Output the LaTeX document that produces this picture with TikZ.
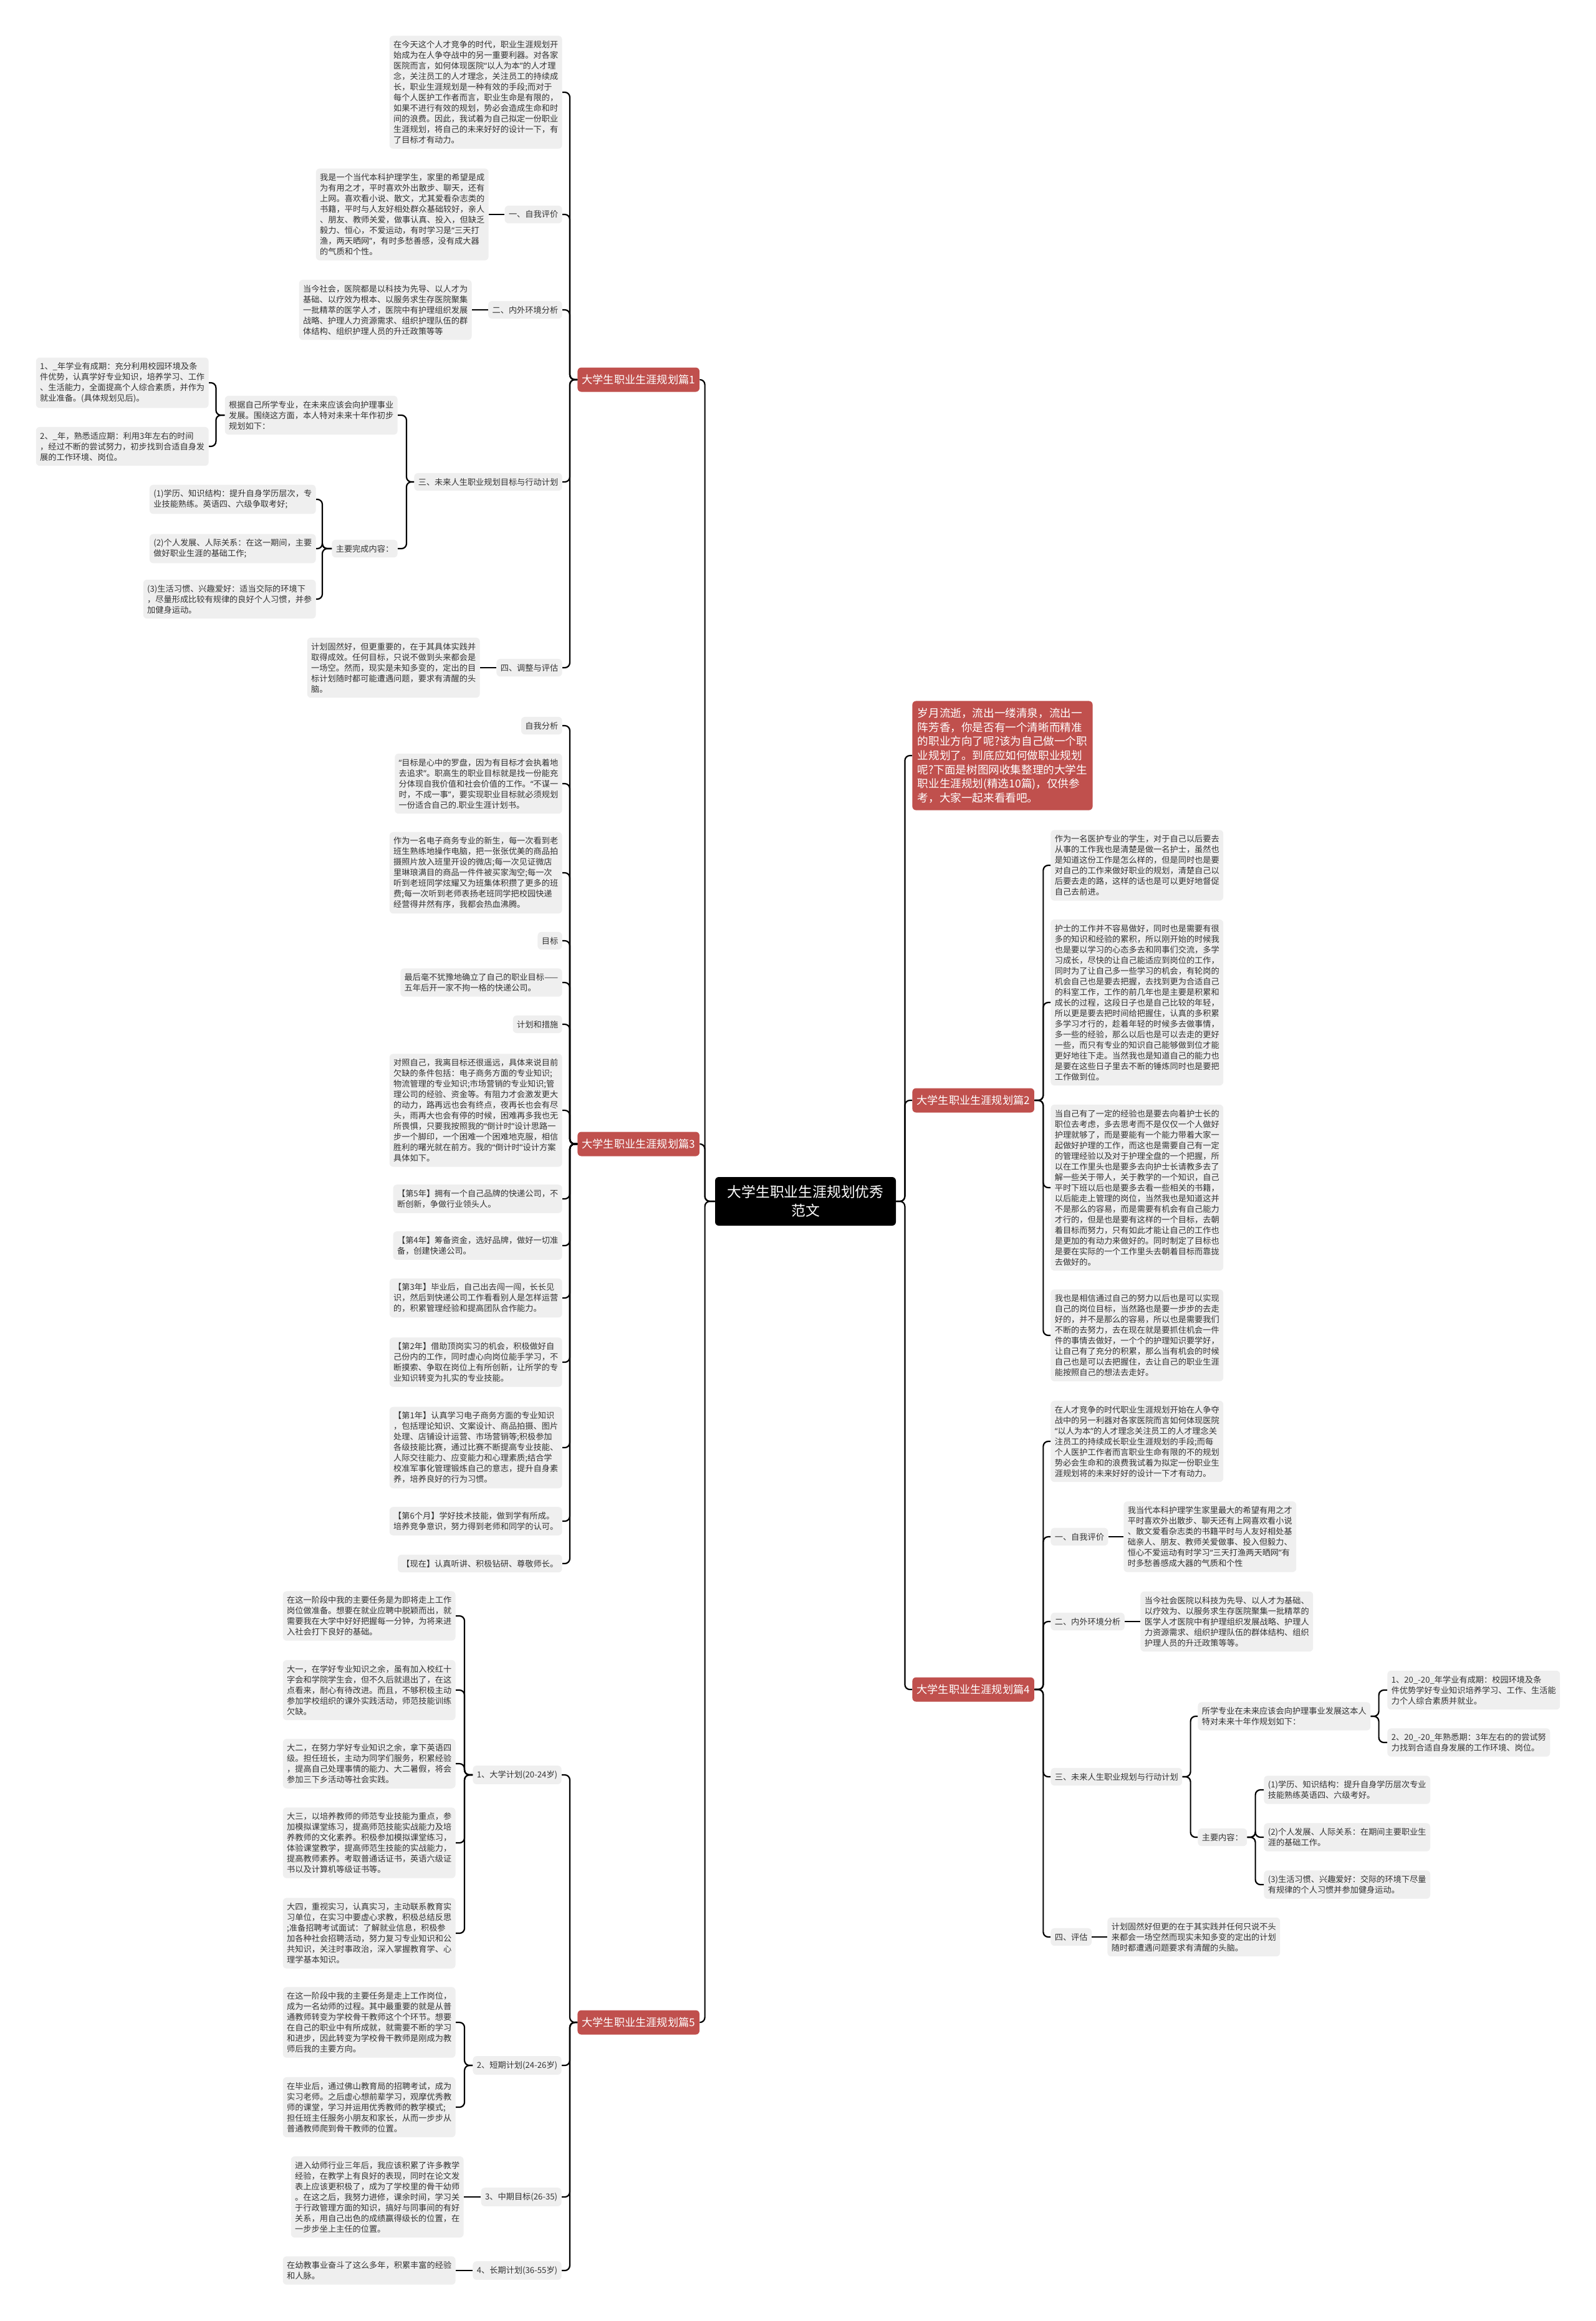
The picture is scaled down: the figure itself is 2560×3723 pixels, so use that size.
\documentclass[tikz,border=0pt]{standalone}
\usepackage{fontspec}
\setmainfont{Noto Sans CJK SC}
\newfontfamily\latq{Noto Sans}
\newcommand\myquote[1]{{\latq “}#1{\latq ”}}
\definecolor{redc}{RGB}{192,80,77}
\definecolor{boxg}{RGB}{239,239,239}
\definecolor{txt}{RGB}{51,51,51}
\tikzset{
 tbox/.style={fill=boxg, text=txt, rounded corners=3pt, inner xsep=3.2pt, inner ysep=4pt, align=left, font=\fontsize{6.6}{8.5}\selectfont},
 rednode/.style={fill=redc, text=white, rounded corners=3pt, inner xsep=3.5pt, inner ysep=0pt, minimum height=19.5pt, font=\fontsize{8.6}{10}\selectfont},
 intronode/.style={fill=redc, text=white, rounded corners=3pt, inner xsep=4.2pt, inner ysep=5.7pt, align=left, font=\fontsize{8.8}{11.3}\selectfont},
 centernode/.style={fill=black, text=white, rounded corners=3pt, minimum width=145pt, minimum height=39pt, inner sep=2pt, align=center, font=\fontsize{11.4}{15}\selectfont},
 conn/.style={draw=black, line width=1.1pt, rounded corners=4pt}
}
\begin{document}
\begin{tikzpicture}[x=0.5pt,y=-0.5pt]
\fill[white] (0,0) rectangle (2560,3723);
\useasboundingbox (0,0) rectangle (2560,3723);

% center
\node[centernode] (c) at (1292,1927) {大学生职业生涯规划优秀\\范文};

% intro
\node[intronode, anchor=west] (intro) at (1463,1212) {岁月流逝，流出一缕清泉，流出一\\阵芳香，你是否有一个清晰而精准\\的职业方向了呢?该为自己做一个职\\业规划了。到底应如何做职业规划\\呢?下面是树图网收集整理的大学生\\职业生涯规划(精选10篇)，仅供参\\考，大家一起来看看吧。};

% ================= Branch 1 =================
\node[rednode, anchor=west] (b1) at (926,609) {大学生职业生涯规划篇1};
\node[tbox, anchor=east] (b1a) at (902,148) {在今天这个人才竞争的时代，职业生涯规划开\\始成为在人争夺战中的另一重要利器。对各家\\医院而言，如何体现医院\myquote{以人为本}的人才理\\念，关注员工的人才理念，关注员工的持续成\\长，职业生涯规划是一种有效的手段;而对于\\每个人医护工作者而言，职业生命是有限的，\\如果不进行有效的规划，势必会造成生命和时\\间的浪费。因此，我试着为自己拟定一份职业\\生涯规划，将自己的未来好好的设计一下，有\\了目标才有动力。};
\node[tbox, anchor=east] (b1b) at (902,344) {一、自我评价};
\node[tbox, anchor=east] (b1b1) at (784,344) {我是一个当代本科护理学生，家里的希望是成\\为有用之才，平时喜欢外出散步、聊天，还有\\上网。喜欢看小说、散文，尤其爱看杂志类的\\书籍，平时与人友好相处群众基础较好，亲人\\、朋友、教师关爱，做事认真、投入，但缺乏\\毅力、恒心，不爱运动，有时学习是{\latq “}三天打\\渔，两天晒网{\latq ”}，有时多愁善感，没有成大器\\的气质和个性。};
\node[tbox, anchor=east] (b1c) at (902,497) {二、内外环境分析};
\node[tbox, anchor=east] (b1c1) at (757,497) {当今社会，医院都是以科技为先导、以人才为\\基础、以疗效为根本、以服务求生存医院聚集\\一批精萃的医学人才，医院中有护理组织发展\\战略、护理人力资源需求、组织护理队伍的群\\体结构、组织护理人员的升迁政策等等};
\node[tbox, anchor=east] (b1d) at (902,773) {三、未来人生职业规划目标与行动计划};
\node[tbox, anchor=east] (b1d1) at (638,666) {根据自己所学专业，在未来应该会向护理事业\\发展。围绕这方面，本人特对未来十年作初步\\规划如下：};
\node[tbox, anchor=east] (b1d1a) at (335,614) {1、\_年学业有成期：充分利用校园环境及条\\件优势，认真学好专业知识，培养学习、工作\\、生活能力，全面提高个人综合素质，并作为\\就业准备。(具体规划见后)。};
\node[tbox, anchor=east] (b1d1b) at (335,716) {2、\_年，熟悉适应期：利用3年左右的时间\\，经过不断的尝试努力，初步找到合适自身发\\展的工作环境、岗位。};
\node[tbox, anchor=east] (b1d2) at (638,880) {主要完成内容：};
\node[tbox, anchor=east] (b1d2a) at (507,801) {(1)学历、知识结构：提升自身学历层次，专\\业技能熟练。英语四、六级争取考好;};
\node[tbox, anchor=east] (b1d2b) at (507,880) {(2)个人发展、人际关系：在这一期间，主要\\做好职业生涯的基础工作;};
\node[tbox, anchor=east] (b1d2c) at (507,961) {(3)生活习惯、兴趣爱好：适当交际的环境下\\，尽量形成比较有规律的良好个人习惯，并参\\加健身运动。};
\node[tbox, anchor=east] (b1e) at (902,1071) {四、调整与评估};
\node[tbox, anchor=east] (b1e1) at (770,1071) {计划固然好，但更重要的，在于其具体实践并\\取得成效。任何目标，只说不做到头来都会是\\一场空。然而，现实是未知多变的，定出的目\\标计划随时都可能遭遇问题，要求有清醒的头\\脑。};

% ================= Branch 3 =================
\node[rednode, anchor=west] (b3) at (926,1835) {大学生职业生涯规划篇3};
\node[tbox, anchor=east] (b3a) at (902,1164) {自我分析};
\node[tbox, anchor=east] (b3b) at (902,1257) {{\latq “}目标是心中的罗盘，因为有目标才会执着地\\去追求{\latq ”}。职高生的职业目标就是找一份能充\\分体现自我价值和社会价值的工作。{\latq “}不谋一\\时，不成一事{\latq ”}，要实现职业目标就必须规划\\一份适合自己的.职业生涯计划书。};
\node[tbox, anchor=east] (b3c) at (902,1400) {作为一名电子商务专业的新生，每一次看到老\\班生熟练地操作电脑，把一张张优美的商品拍\\摄照片放入班里开设的微店;每一次见证微店\\里琳琅满目的商品一件件被买家淘空;每一次\\听到老班同学炫耀又为班集体积攒了更多的班\\费;每一次听到老师表扬老班同学把校园快递\\经营得井然有序，我都会热血沸腾。};
\node[tbox, anchor=east] (b3d) at (902,1509) {目标};
\node[tbox, anchor=east] (b3e) at (902,1576) {最后毫不犹豫地确立了自己的职业目标——\\五年后开一家不拘一格的快递公司。};
\node[tbox, anchor=east] (b3f) at (902,1643) {计划和措施};
\node[tbox, anchor=east] (b3g) at (902,1781) {对照自己，我离目标还很遥远，具体来说目前\\欠缺的条件包括：电子商务方面的专业知识;\\物流管理的专业知识;市场营销的专业知识;管\\理公司的经验、资金等。有阻力才会激发更大\\的动力，路再远也会有终点，夜再长也会有尽\\头，雨再大也会有停的时候，困难再多我也无\\所畏惧，只要我按照我的\myquote{倒计时}设计思路一\\步一个脚印，一个困难一个困难地克服，相信\\胜利的曙光就在前方。我的\myquote{倒计时}设计方案\\具体如下。};
\node[tbox, anchor=east] (b3h) at (902,1923) {【第5年】拥有一个自己品牌的快递公司，不\\断创新，争做行业领头人。};
\node[tbox, anchor=east] (b3i) at (902,1998) {【第4年】筹备资金，选好品牌，做好一切准\\备，创建快递公司。};
\node[tbox, anchor=east] (b3j) at (902,2082) {【第3年】毕业后，自己出去闯一闯，长长见\\识，然后到快递公司工作看看别人是怎样运营\\的，积累管理经验和提高团队合作能力。};
\node[tbox, anchor=east] (b3k) at (902,2185) {【第2年】借助顶岗实习的机会，积极做好自\\己份内的工作，同时虚心向岗位能手学习，不\\断摸索、争取在岗位上有所创新，让所学的专\\业知识转变为扎实的专业技能。};
\node[tbox, anchor=east] (b3l) at (902,2322) {【第1年】认真学习电子商务方面的专业知识\\，包括理论知识、文案设计、商品拍摄、图片\\处理、店铺设计运营、市场营销等;积极参加\\各级技能比赛，通过比赛不断提高专业技能、\\人际交往能力、应变能力和心理素质;结合学\\校准军事化管理锻炼自己的意志，提升自身素\\养，培养良好的行为习惯。};
\node[tbox, anchor=east] (b3m) at (902,2440) {【第6个月】学好技术技能，做到学有所成。\\培养竞争意识，努力得到老师和同学的认可。};
\node[tbox, anchor=east] (b3n) at (902,2508) {【现在】认真听讲、积极钻研、尊敬师长。};

% ================= Branch 5 =================
\node[rednode, anchor=west] (b5) at (926,3244) {大学生职业生涯规划篇5};
\node[tbox, anchor=east] (b5a) at (901,2847) {1、大学计划(20-24岁)};
\node[tbox, anchor=east] (b5a1) at (731,2592) {在这一阶段中我的主要任务是为即将走上工作\\岗位做准备。想要在就业应聘中脱颖而出，就\\需要我在大学中好好把握每一分钟，为将来进\\入社会打下良好的基础。};
\node[tbox, anchor=east] (b5a2) at (731,2711) {大一，在学好专业知识之余，虽有加入校红十\\字会和学院学生会，但不久后就退出了，在这\\点看来，耐心有待改进。而且，不够积极主动\\参加学校组织的课外实践活动，师范技能训练\\欠缺。};
\node[tbox, anchor=east] (b5a3) at (731,2829) {大二，在努力学好专业知识之余，拿下英语四\\级。担任班长，主动为同学们服务，积累经验\\，提高自己处理事情的能力、大二暑假，将会\\参加三下乡活动等社会实践。};
\node[tbox, anchor=east] (b5a4) at (731,2956) {大三，以培养教师的师范专业技能为重点，参\\加模拟课堂练习，提高师范技能实战能力及培\\养教师的文化素养。积极参加模拟课堂练习，\\体验课堂教学，提高师范生技能的实战能力，\\提高教师素养。考取普通话证书，英语六级证\\书以及计算机等级证书等。};
\node[tbox, anchor=east] (b5a5) at (731,3101) {大四，重视实习，认真实习，主动联系教育实\\习单位，在实习中要虚心求教，积极总结反思\\;准备招聘考试面试：了解就业信息，积极参\\加各种社会招聘活动，努力复习专业知识和公\\共知识，关注时事政治，深入掌握教育学、心\\理学基本知识。};
\node[tbox, anchor=east] (b5b) at (901,3313) {2、短期计划(24-26岁)};
\node[tbox, anchor=east] (b5b1) at (731,3244) {在这一阶段中我的主要任务是走上工作岗位，\\成为一名幼师的过程。其中最重要的就是从普\\通教师转变为学校骨干教师这个个环节。想要\\在自己的职业中有所成就，就需要不断的学习\\和进步，因此转变为学校骨干教师是刚成为教\\师后我的主要方向。};
\node[tbox, anchor=east] (b5b2) at (731,3380) {在毕业后，通过佛山教育局的招聘考试，成为\\实习老师。之后虚心想前辈学习，观摩优秀教\\师的课堂，学习并运用优秀教师的教学模式;\\担任班主任服务小朋友和家长，从而一步步从\\普通教师爬到骨干教师的位置。};
\node[tbox, anchor=east] (b5c) at (901,3524) {3、中期目标(26-35)};
\node[tbox, anchor=east] (b5c1) at (744,3524) {进入幼师行业三年后，我应该积累了许多教学\\经验，在教学上有良好的表现，同时在论文发\\表上应该更积极了，成为了学校里的骨干幼师\\。在这之后，我努力进修，课余时间，学习关\\于行政管理方面的知识，搞好与同事间的有好\\关系，用自己出色的成绩赢得级长的位置，在\\一步步坐上主任的位置。};
\node[tbox, anchor=east] (b5d) at (901,3642) {4、长期计划(36-55岁)};
\node[tbox, anchor=east] (b5d1) at (731,3642) {在幼教事业奋斗了这么多年，积累丰富的经验\\和人脉。};

% ================= Branch 2 =================
\node[rednode, anchor=west] (b2) at (1463,1765) {大学生职业生涯规划篇2};
\node[tbox, anchor=west] (b2a) at (1685,1388) {作为一名医护专业的学生，对于自己以后要去\\从事的工作我也是清楚是做一名护士，虽然也\\是知道这份工作是怎么样的，但是同时也是要\\对自己的工作来做好职业的规划，清楚自己以\\后要去走的路，这样的话也是可以更好地督促\\自己去前进。};
\node[tbox, anchor=west] (b2b) at (1685,1608) {护士的工作并不容易做好，同时也是需要有很\\多的知识和经验的累积，所以刚开始的时候我\\也是要以学习的心态多去和同事们交流，多学\\习成长，尽快的让自己能适应到岗位的工作，\\同时为了让自己多一些学习的机会，有轮岗的\\机会自己也是要去把握，去找到更为合适自己\\的科室工作，工作的前几年也是主要是积累和\\成长的过程，这段日子也是自己比较的年轻，\\所以更是要去把时间给把握住，认真的多积累\\多学习才行的，趁着年轻的时候多去做事情，\\多一些的经验，那么以后也是可以去走的更好\\一些，而只有专业的知识自己能够做到位才能\\更好地往下走。当然我也是知道自己的能力也\\是要在这些日子里去不断的锤炼同时也是要把\\工作做到位。};
\node[tbox, anchor=west] (b2c) at (1685,1905) {当自己有了一定的经验也是要去向着护士长的\\职位去考虑，多去思考而不是仅仅一个人做好\\护理就够了，而是要能有一个能力带着大家一\\起做好护理的工作，而这也是需要自己有一定\\的管理经验以及对于护理全盘的一个把握，所\\以在工作里头也是要多去向护士长请教多去了\\解一些关于带人，关于教学的一个知识，自己\\平时下班以后也是要多去看一些相关的书籍，\\以后能走上管理的岗位，当然我也是知道这并\\不是那么的容易，而是需要有机会有自己能力\\才行的，但是也是要有这样的一个目标，去朝\\着目标而努力，只有如此才能让自己的工作也\\是更加的有动力来做好的。同时制定了目标也\\是要在实际的一个工作里头去朝着目标而靠拢\\去做好的。};
\node[tbox, anchor=west] (b2d) at (1685,2142) {我也是相信通过自己的努力以后也是可以实现\\自己的岗位目标，当然路也是要一步步的去走\\好的，并不是那么的容易，所以也是需要我们\\不断的去努力，去在现在就是要抓住机会一件\\件的事情去做好，一个个的护理知识要学好，\\让自己有了充分的积累，那么当有机会的时候\\自己也是可以去把握住，去让自己的职业生涯\\能按照自己的想法去走好。};

% ================= Branch 4 =================
\node[rednode, anchor=west] (b4) at (1463,2710) {大学生职业生涯规划篇4};
\node[tbox, anchor=west] (b4a) at (1685,2312) {在人才竞争的时代职业生涯规划开始在人争夺\\战中的另一利器对各家医院而言如何体现医院\\\myquote{以人为本}的人才理念关注员工的人才理念关\\注员工的持续成长职业生涯规划的手段;而每\\个人医护工作者而言职业生命有限的不的规划\\势必会生命和的浪费我试着为拟定一份职业生\\涯规划将的未来好好的设计一下才有动力。};
\node[tbox, anchor=west] (b4b) at (1685,2465) {一、自我评价};
\node[tbox, anchor=west] (b4b1) at (1802,2465) {我当代本科护理学生家里最大的希望有用之才\\平时喜欢外出散步、聊天还有上网喜欢看小说\\、散文爱看杂志类的书籍平时与人友好相处基\\础亲人、朋友、教师关爱做事、投入但毅力、\\恒心不爱运动有时学习\myquote{三天打渔两天晒网}有\\时多愁善感成大器的气质和个性};
\node[tbox, anchor=west] (b4c) at (1685,2601) {二、内外环境分析};
\node[tbox, anchor=west] (b4c1) at (1829,2601) {当今社会医院以科技为先导、以人才为基础、\\以疗效为、以服务求生存医院聚集一批精萃的\\医学人才医院中有护理组织发展战略、护理人\\力资源需求、组织护理队伍的群体结构、组织\\护理人员的升迁政策等等。};
\node[tbox, anchor=west] (b4d) at (1685,2850) {三、未来人生职业规划与行动计划};
\node[tbox, anchor=west] (b4d1) at (1921,2753) {所学专业在未来应该会向护理事业发展这本人\\特对未来十年作规划如下：};
\node[tbox, anchor=west] (b4d1a) at (2225,2711) {1、20\_-20\_年学业有成期：校园环境及条\\件优势学好专业知识培养学习、工作、生活能\\力个人综合素质并就业。};
\node[tbox, anchor=west] (b4d1b) at (2225,2795) {2、20\_-20\_年熟悉期：3年左右的的尝试努\\力找到合适自身发展的工作环境、岗位。};
\node[tbox, anchor=west] (b4d2) at (1921,2947) {主要内容：};
\node[tbox, anchor=west] (b4d2a) at (2027,2871) {(1)学历、知识结构：提升自身学历层次专业\\技能熟练英语四、六级考好。};
\node[tbox, anchor=west] (b4d2b) at (2027,2947) {(2)个人发展、人际关系：在期间主要职业生\\涯的基础工作。};
\node[tbox, anchor=west] (b4d2c) at (2027,3023) {(3)生活习惯、兴趣爱好：交际的环境下尽量\\有规律的个人习惯并参加健身运动。};
\node[tbox, anchor=west] (b4e) at (1685,3107) {四、评估};
\node[tbox, anchor=west] (b4e1) at (1776,3107) {计划固然好但更的在于其实践并任何只说不头\\来都会一场空然而现实未知多变的定出的计划\\随时都遭遇问题要求有清醒的头脑。};

% ================= connectors =================
\foreach \n in {b1,b3,b5} \draw[conn] (c.west) -- ++(-16,0) |- (\n.east);
\foreach \n in {intro,b2,b4} \draw[conn] (c.east) -- ++(14,0) |- (\n.west);

\foreach \n in {b1a,b1b,b1c,b1d,b1e} \draw[conn] (b1.west) -- ++(-12,0) |- (\n.east);
\draw[conn] (b1b.west) -- (b1b1.east);
\draw[conn] (b1c.west) -- (b1c1.east);
\foreach \n in {b1d1,b1d2} \draw[conn] (b1d.west) -- ++(-12,0) |- (\n.east);
\foreach \n in {b1d1a,b1d1b} \draw[conn] (b1d1.west) -- ++(-14,0) |- (\n.east);
\foreach \n in {b1d2a,b1d2b,b1d2c} \draw[conn] (b1d2.west) -- ++(-15,0) |- (\n.east);
\draw[conn] (b1e.west) -- (b1e1.east);

\foreach \n in {b3a,b3b,b3c,b3d,b3e,b3f,b3g,b3h,b3i,b3j,b3k,b3l,b3m,b3n} \draw[conn] (b3.west) -- ++(-12,0) |- (\n.east);

\foreach \n in {b5a,b5b,b5c,b5d} \draw[conn] (b5.west) -- ++(-12,0) |- (\n.east);
\foreach \n in {b5a1,b5a2,b5a3,b5a4,b5a5} \draw[conn] (b5a.west) -- ++(-13,0) |- (\n.east);
\foreach \n in {b5b1,b5b2} \draw[conn] (b5b.west) -- ++(-13,0) |- (\n.east);
\draw[conn] (b5c.west) -- (b5c1.east);
\draw[conn] (b5d.west) -- (b5d1.east);

\foreach \n in {b2a,b2b,b2c,b2d} \draw[conn] (b2.east) -- ++(14,0) |- (\n.west);

\foreach \n in {b4a,b4b,b4c,b4d,b4e} \draw[conn] (b4.east) -- ++(14,0) |- (\n.west);
\draw[conn] (b4b.east) -- (b4b1.west);
\draw[conn] (b4c.east) -- (b4c1.west);
\foreach \n in {b4d1,b4d2} \draw[conn] (b4d.east) -- ++(13,0) |- (\n.west);
\foreach \n in {b4d1a,b4d1b} \draw[conn] (b4d1.east) -- ++(13,0) |- (\n.west);
\foreach \n in {b4d2a,b4d2b,b4d2c} \draw[conn] (b4d2.east) -- ++(13,0) |- (\n.west);
\draw[conn] (b4e.east) -- (b4e1.west);
\end{tikzpicture}
\end{document}
